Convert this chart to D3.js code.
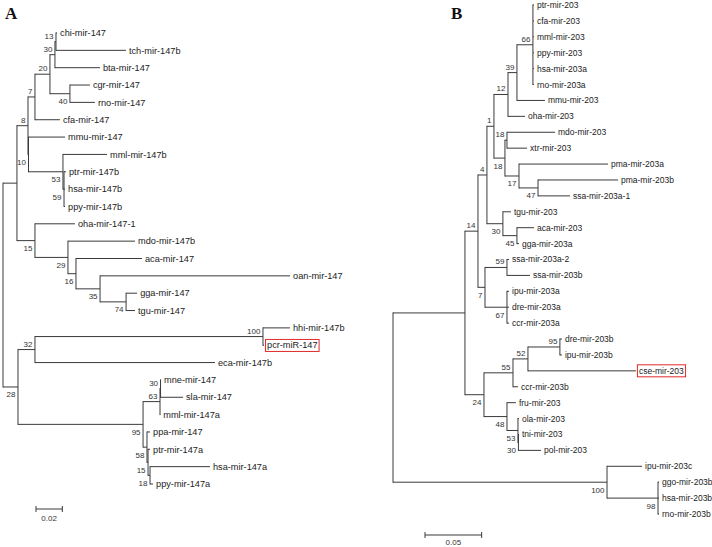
<!DOCTYPE html>
<html><head><meta charset="utf-8">
<script src="https://cdn.jsdelivr.net/npm/d3@7"></script>
<style>html,body{margin:0;padding:0;background:#fff;}svg{display:block;}</style>
</head><body>
<svg id="chart" width="712" height="547"></svg>
<script>
// ---------- Tree A (mir-147) ----------
const treeANodes = ["rootA","a17","a8","a7","a20","a30","a13","chi-mir-147","tch-mir-147b","bta-mir-147","a40","cgr-mir-147","rno-mir-147","cfa-mir-147","a10","mmu-mir-147","a53","mml-mir-147b","a59","ptr-mir-147b","hsa-mir-147b","ppy-mir-147b","a15","oha-mir-147-1","a29","mdo-mir-147b","a16","aca-mir-147","a35","oan-mir-147","a74","gga-mir-147","tgu-mir-147","a28","a32","a100","hhi-mir-147b","pcr-miR-147","eca-mir-147b","a95","a63","a30b","mne-mir-147","sla-mir-147","mml-mir-147a","a58","ppa-mir-147","a15b","ptr-mir-147a","a18","hsa-mir-147a","ppy-mir-147a"];
const treeAParents = [null,"rootA","a17","a8","a7","a20","a30","a13","a13","a30","a20","a40","a40","a7","a8","a10","a10","a53","a53","a59","a59","a59","a17","a15","a15","a29","a29","a16","a16","a35","a35","a74","a74","rootA","a28","a32","a100","a100","a32","a28","a95","a63","a30b","a30b","a63","a95","a58","a58","a15b","a15b","a18","a18"];
const treeALengths = [0,0.0106,0.0084,0.0053,0.0114,0.0038,0.0008,0.0008,0.0532,0.0342,0.0152,0.0152,0.0190,0.0190,0.0004,0.0278,0.0262,0.0335,0.0008,0.0015,0.0008,0.0008,0.0137,0.0304,0.0251,0.0510,0.0061,0.0502,0.0183,0.1445,0.0198,0.0084,0.0068,0.0114,0.0129,0.1734,0.0205,0.0008,0.1369,0.0951,0.0129,0.0004,0.0004,0.0171,0.0002,0.0030,0.0023,0.0008,0.0015,0.0015,0.0456,0.0023];
const treeASupport = [null,null,8,7,20,30,13,null,null,null,40,null,null,null,10,null,53,null,59,null,null,null,15,null,29,null,16,null,35,null,74,null,null,28,32,100,null,null,null,95,63,30,null,null,null,58,null,15,null,18,null,null];
const scaleBarA = 0.02;

// ---------- Tree B (mir-203) ----------
const treeBNodes = ["rootB","bBig","b14","b4","b1","b12","b39","b66","ptr-mir-203","cfa-mir-203","mml-mir-203","ppy-mir-203","hsa-mir-203a","rno-mir-203a","mmu-mir-203","oha-mir-203","b18a","b18b","mdo-mir-203","xtr-mir-203","b17","pma-mir-203a","b47","pma-mir-203b","ssa-mir-203a-1","b30","tgu-mir-203","b45","aca-mir-203","gga-mir-203a","b7","b59","ssa-mir-203a-2","ssa-mir-203b","b67","ipu-mir-203a","dre-mir-203a","ccr-mir-203a","b24","b55","b52","b95","dre-mir-203b","ipu-mir-203b","cse-mir-203","ccr-mir-203b","b48","fru-mir-203","b53","ola-mir-203","b30c","tni-mir-203","pol-mir-203","b100","ipu-mir-203c","b98","ggo-mir-203b","hsa-mir-203b","rno-mir-203b"];
const treeBParents = [null,"rootB","bBig","b14","b4","b1","b12","b39","b66","b66","b66","b66","b66","b66","b39","b12","b1","b18a","b18b","b18b","b18a","b17","b17","b47","b47","b4","b30","b30","b45","b45","b14","b7","b59","b59","b7","b67","b67","b67","bBig","b24","b55","b52","b95","b95","b52","b55","b24","b48","b48","b53","b53","b30c","b30c","rootB","b100","b100","b98","b98","b98"];
const treeBLengths = [0,0.0635,0.0115,0.0079,0.0062,0.0124,0.0079,0.0141,0.0009,0.0009,0.0009,0.0009,0.0009,0.0009,0.0247,0.0150,0.0097,0.0018,0.0424,0.0177,0.0124,0.0786,0.0168,0.0706,0.0282,0.0141,0.0071,0.0124,0.0150,0.0018,0.0062,0.0194,0.0018,0.0203,0.0194,0.0018,0.0018,0.0018,0.0168,0.0256,0.0132,0.0282,0.0018,0.0018,0.0953,0.0044,0.0203,0.0079,0.0097,0.0009,0.0004,0.0004,0.0199,0.1889,0.0309,0.0450,0.0009,0.0009,0.0009];
const treeBSupport = [null,null,14,4,1,12,39,66,null,null,null,null,null,null,null,null,18,18,null,null,17,null,47,null,null,30,null,45,null,null,7,59,null,null,67,null,null,null,24,55,52,95,null,null,null,null,48,null,53,null,30,null,null,100,null,98,null,null,null];
const scaleBarB = 0.05;

const highlighted = ["pcr-miR-147","cse-mir-203"];
const panelLabels = ["A","B"];

const svg = d3.select("#chart");
const FONT = "'Liberation Sans', Arial, sans-serif";
const boxLayer = [];

function drawTree(cfg) {
  const rows = cfg.ids.map((id, i) => ({id, parent: cfg.parents[i], len: cfg.lengths[i], bs: cfg.support[i]}));
  const root = d3.stratify().id(d => d.id).parentId(d => d.parent)(rows);
  root.eachBefore(n => { n.dist = n.parent ? n.parent.dist + n.data.len : 0; });
  const maxDist = d3.max(root.leaves(), d => d.dist);
  const x = d3.scaleLinear().domain([0, maxDist]).range([cfg.x0, cfg.x0 + maxDist * cfg.pxPerUnit]);
  const leaves = root.leaves();
  const y = d3.scalePoint().domain(leaves.map(d => d.id)).range(cfg.yRange);
  root.eachAfter(n => {
    n.py = n.children ? (n.children[0].py + n.children[n.children.length - 1].py) / 2 : y(n.id);
  });
  const g = svg.append("g");
  const lineCol = "#3a3a3a";
  g.selectAll("line.h").data(root.descendants().filter(n => n.parent)).join("line").attr("class", "h")
    .attr("x1", n => x(n.parent.dist)).attr("x2", n => x(n.dist))
    .attr("y1", n => n.py).attr("y2", n => n.py)
    .attr("stroke", lineCol).attr("stroke-width", 1);
  g.selectAll("line.v").data(root.descendants().filter(n => n.children)).join("line").attr("class", "v")
    .attr("x1", n => x(n.dist)).attr("x2", n => x(n.dist))
    .attr("y1", n => n.children[0].py - 0.5).attr("y2", n => n.children[n.children.length - 1].py + 0.5)
    .attr("stroke", lineCol).attr("stroke-width", 1);
  const lab = g.selectAll("text.leaf").data(leaves).join("text").attr("class", "leaf")
    .attr("x", n => x(n.dist) + 3).attr("y", n => n.py).attr("dy", "0.35em")
    .attr("font-family", FONT).attr("font-size", cfg.leafFont).attr("fill", "#222")
    .text(n => n.id);
  lab.filter(n => highlighted.includes(n.id)).each(function() {
    const b = this.getBBox();
    boxLayer.push({x: b.x - 1.5, y: b.y - 1, w: b.width + 3, h: b.height + 2});
  });
  g.selectAll("text.bs").data(root.descendants().filter(n => n.data.bs != null)).join("text").attr("class", "bs")
    .attr("x", n => x(n.dist) - 2.5)
    .attr("y", n => (n.parent && n.parent.children[0] === n) ? n.py - 3 : n.py + 10.5)
    .attr("text-anchor", "end")
    .attr("font-family", FONT).attr("font-size", 8).attr("fill", "#333")
    .text(n => n.data.bs);
  const sb = cfg.scaleBar;
  const bx0 = cfg.barX, bx1 = cfg.barX + (x(sb) - x(0));
  const by = cfg.barY;
  g.append("line").attr("x1", bx0).attr("x2", bx1).attr("y1", by).attr("y2", by).attr("stroke", lineCol);
  g.append("line").attr("x1", bx0).attr("x2", bx0).attr("y1", by - 3).attr("y2", by + 3).attr("stroke", lineCol);
  g.append("line").attr("x1", bx1).attr("x2", bx1).attr("y1", by - 3).attr("y2", by + 3).attr("stroke", lineCol);
  g.append("text").attr("x", (bx0 + bx1) / 2).attr("y", by + cfg.barLabelDy).attr("text-anchor", "middle")
    .attr("font-family", FONT).attr("font-size", 8).attr("fill", "#333").text(d3.format(".2f")(sb));
  svg.append("text").attr("x", cfg.letterX).attr("y", 19)
    .attr("font-family", "'Liberation Serif', 'Times New Roman', serif").attr("font-weight", "bold")
    .attr("font-size", 17).attr("fill", "#111").text(cfg.letter);
}

drawTree({ids: treeANodes, parents: treeAParents, lengths: treeALengths, support: treeASupport,
  x0: 3, pxPerUnit: 1315, yRange: [33, 484], leafFont: 9.2, scaleBar: scaleBarA, barX: 36, barY: 509, barLabelDy: 12,
  letter: panelLabels[0], letterX: 5});
drawTree({ids: treeBNodes, parents: treeBParents, lengths: treeBLengths, support: treeBSupport,
  x0: 393, pxPerUnit: 1133, yRange: [5, 514], leafFont: 8.5, scaleBar: scaleBarB, barX: 425, barY: 535, barLabelDy: 9.5,
  letter: panelLabels[1], letterX: 451});

// highlight boxes drawn on top
svg.append("g").selectAll("rect").data(boxLayer).join("rect")
  .attr("x", d => d.x).attr("y", d => d.y).attr("width", d => d.w).attr("height", d => d.h)
  .attr("fill", "none").attr("stroke", "#e02a2a").attr("stroke-width", 1);
</script>
</body></html>
